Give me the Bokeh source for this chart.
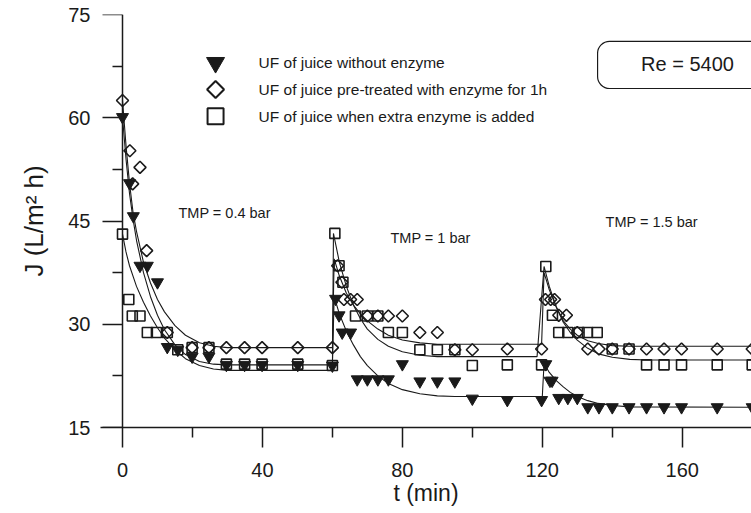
from bokeh.plotting import figure
from bokeh.models import FixedTicker, Range1d, LinearAxis
from bokeh.core.properties import value
from bokeh.embed import file_html
from bokeh.resources import INLINE

# ---------------- data ----------------
# UF of juice without enzyme (filled inverted triangles)
tri_t = [0, 2.0, 3.1, 5.0, 7.1, 10.0, 12.8, 15.8, 19.9, 24.7, 29.7, 34.9, 39.9, 50.1,
         60.0, 60.9, 61.9, 62.8, 65.2, 67.1, 70.0, 73.0, 76.0, 80.0, 85.0, 90.0, 95.0, 100.0, 110.0,
         119.8, 121.0, 122.2, 122.8, 124.7, 127.3, 130.0, 133.0, 136.2, 140.0, 144.8, 149.8, 154.8,
         159.8, 170.0, 180.0]
tri_J = [60.1, 50.5, 45.7, 38.5, 38.5, 36.1, 26.7, 26.3, 25.3, 25.3, 24.1, 24.1, 24.1, 24.1,
         24.0, 33.7, 31.3, 28.8, 28.8, 22.0, 22.0, 22.0, 22.0, 24.2, 21.7, 21.7, 21.7, 19.2, 19.0,
         19.0, 24.2, 21.8, 21.8, 19.3, 19.3, 19.3, 17.95, 17.95, 17.95, 17.95, 17.95, 17.95,
         17.95, 17.95, 17.95]

# UF of juice pre-treated with enzyme for 1h (open diamonds)
dia_t = [0, 2.1, 2.9, 5.0, 6.9, 12.8, 19.9, 24.7, 29.7, 34.9, 39.9, 50.1,
         60.0, 61.5, 62.7, 63.3, 65.2, 67.1, 70.0, 73.0, 76.0, 80.0, 85.0, 90.0, 95.0, 100.0, 110.0,
         119.8, 120.9, 122.4, 123.5, 124.7, 126.9, 130.0, 133.0, 136.2, 140.0, 144.8, 149.8, 154.8,
         159.8, 170.0, 180.0]
dia_J = [62.5, 55.2, 50.4, 52.8, 40.7, 28.8, 26.6, 26.6, 26.6, 26.6, 26.6, 26.6,
         26.6, 38.5, 36.1, 33.6, 33.6, 33.6, 31.2, 31.2, 31.2, 31.2, 28.8, 28.8, 26.3, 26.3, 26.4,
         26.4, 33.6, 33.6, 33.6, 31.3, 31.3, 28.8, 26.4, 26.4, 26.4, 26.4, 26.4, 26.4,
         26.4, 26.4, 26.4]

# UF of juice when extra enzyme is added (open squares)
sq_t = [0, 1.8, 2.8, 5.0, 7.1, 9.7, 12.8, 15.8, 19.9, 24.7, 29.7, 34.9, 39.9, 50.1,
        60.0, 60.7, 61.9, 63.0, 66.6, 70.0, 73.0, 76.0, 80.0, 85.0, 90.0, 95.0, 100.0, 110.0,
        119.8, 121.0, 122.9, 124.7, 127.3, 130.5, 132.9, 135.7, 140.0, 144.8, 149.8, 154.8,
        159.8, 170.0, 180.0]
sq_J = [43.1, 33.6, 31.2, 31.2, 28.8, 28.8, 28.8, 26.3, 26.6, 26.6, 24.2, 24.2, 24.2, 24.2,
        24.0, 43.2, 38.5, 36.1, 31.2, 31.2, 31.2, 28.8, 28.8, 26.3, 26.3, 26.3, 24.0, 24.1,
        24.1, 38.4, 31.3, 28.8, 28.8, 28.8, 28.8, 28.8, 26.4, 26.4, 24.1, 24.1,
        24.1, 24.1, 24.1]

# fitted curves
fit_tri_t = [0, 1, 2, 3, 4, 6, 8, 10, 12, 15, 18, 22, 26, 30, 60,
             60.5, 62, 64, 66, 68, 70, 73, 76, 80, 85, 90, 95, 120,
             120.5, 122, 124, 126, 128, 130, 133, 136, 140, 145, 180]
fit_tri_J = [60.1, 54.0, 49.0, 45.3, 42.2, 37.5, 34.0, 31.3, 29.2, 27.0, 25.6, 24.6, 24.2, 24.1, 24.1,
             34.0, 31.5, 29.0, 27.0, 25.3, 24.0, 22.5, 21.4, 20.5, 19.9, 19.6, 19.5, 19.5,
             24.3, 23.0, 21.8, 20.9, 20.1, 19.5, 18.9, 18.5, 18.2, 18.0, 17.95]

fit_dia_t = [0, 1, 2, 3, 4, 6, 8, 10, 12, 15, 18, 22, 26, 30, 60,
             60.5, 62, 64, 66, 68, 70, 73, 76, 80, 85, 90, 119.8,
             120.5, 122, 124, 126, 128, 130, 133, 136, 140, 145, 180]
fit_dia_J = [62.5, 56.0, 50.5, 46.3, 43.5, 39.0, 36.0, 33.6, 31.8, 29.8, 28.4, 27.3, 26.8, 26.6, 26.6,
             39.5, 37.0, 34.5, 32.8, 31.5, 30.5, 29.3, 28.4, 27.7, 27.3, 27.1, 27.1,
             37.5, 35.0, 32.5, 30.5, 29.3, 28.4, 27.6, 27.2, 26.9, 26.8, 26.8]

fit_sq_t = [0, 1, 2, 4, 6, 8, 10, 12, 15, 18, 22, 26, 30, 60,
            60.3, 62, 64, 66, 68, 70, 73, 76, 80, 85, 90, 118.5,
            120.5, 122, 124, 126, 128, 130, 133, 136, 140, 145, 150, 180]
fit_sq_J = [43.1, 40.5, 38.5, 35.5, 33.2, 31.2, 29.5, 28.0, 26.3, 25.0, 24.0, 23.5, 23.3, 23.3,
            43.2, 39.0, 35.5, 32.8, 30.8, 29.3, 27.8, 26.8, 26.0, 25.5, 25.3, 25.3,
            38.4, 35.5, 32.5, 30.3, 28.8, 27.7, 26.5, 25.7, 25.2, 24.9, 24.8, 24.8]

x_major = [0, 40, 80, 120, 160]
x_minor = [20, 60, 100, 140, 180]
y_major = [15, 30, 45, 60, 75]
y_minor = [22.5, 37.5, 52.5, 67.5]

legend_labels = ["UF of juice without enzyme",
                 "UF of juice pre-treated with enzyme for 1h",
                 "UF of juice when extra enzyme is added"]
tmp_labels = ["TMP = 0.4 bar", "TMP = 1 bar", "TMP = 1.5 bar"]
re_label = "Re = 5400"

# ---------------- figure ----------------
FONT = "Liberation Sans"
INK = "#1a1a1a"

p = figure(width=751, height=513, output_backend="svg", toolbar_location=None,
           x_range=Range1d(-6.29, 179.8), y_range=Range1d(15, 75),
           min_border_left=100, min_border_right=0, min_border_top=14, min_border_bottom=86)
p.outline_line_color = None
p.grid.visible = False
p.background_fill_color = "white"
p.border_fill_color = "white"

# x axis (bottom of the frame, at J = 15)
xa = p.xaxis[0]
xa.ticker = FixedTicker(ticks=x_major, minor_ticks=x_minor)

# left axis: only tick labels and title (sits at the frame edge)
ya = p.yaxis[0]
ya.ticker = FixedTicker(ticks=y_major, minor_ticks=y_minor)
ya.axis_line_color = None
ya.major_tick_line_color = None
ya.minor_tick_line_color = None
ya.major_tick_out = 0
ya.major_tick_in = 0
ya.minor_tick_out = 0
ya.minor_tick_in = 0

# y axis line and ticks, drawn at t = 0 (its labels are carried by the axis above)
ya2 = LinearAxis(ticker=FixedTicker(ticks=y_major, minor_ticks=y_minor), fixed_location=0,
                 major_label_text_font_size="0px", major_label_standoff=0,
                 major_label_text_color=None, major_label_text_alpha=0)
p.add_layout(ya2, "left")

for ax in (xa, ya2):
    ax.axis_line_color = INK
    ax.axis_line_width = 1.5
    ax.major_tick_line_color = INK
    ax.major_tick_line_width = 1.5
    ax.minor_tick_line_color = INK
    ax.minor_tick_line_width = 1.5
    ax.major_tick_out = 20
    ax.major_tick_in = 0
    ax.minor_tick_out = 10
    ax.minor_tick_in = 0

for ax in (xa, ya):
    ax.major_label_text_font = FONT
    ax.major_label_text_font_size = "20px"
    ax.major_label_text_color = INK
    ax.axis_label_text_font = FONT
    ax.axis_label_text_font_style = "normal"
    ax.axis_label_text_color = INK

xa.major_label_standoff = 15
ya.major_label_standoff = 10
xa.axis_label = "t (min)"
ya.axis_label = "J (L/m² h)"
xa.axis_label_text_font_size = "23px"
ya.axis_label_text_font_size = "26px"
xa.axis_label_standoff = 0
ya.axis_label_standoff = 16

# fitted lines
for tt, jj in ((fit_tri_t, fit_tri_J), (fit_dia_t, fit_dia_J), (fit_sq_t, fit_sq_J)):
    p.line(tt, jj, line_color=INK, line_width=1.1)

# markers
p.scatter(tri_t, tri_J, marker="inverted_triangle", size=12, fill_color=INK, line_color=INK)
p.scatter(dia_t, dia_J, marker="square", angle=0.7854, size=8.5, fill_color=None,
          line_color=INK, line_width=1.6)
p.scatter(sq_t, sq_J, marker="square", size=10, fill_color=None, line_color=INK, line_width=1.6)

# legend (drawn by hand, as in the original)
leg_x = 26.6
leg_y = [68.0, 64.1, 60.2]
p.scatter([leg_x], [leg_y[0]], marker="inverted_triangle", size=18, fill_color=INK, line_color=INK)
p.scatter([leg_x], [leg_y[1]], marker="square", angle=0.7854, size=12, fill_color=None,
          line_color=INK, line_width=2)
p.scatter([leg_x], [leg_y[2]], marker="square", size=16, fill_color=None, line_color=INK, line_width=2)
p.text([38.9] * 3, leg_y, text=legend_labels, text_font=value(FONT), text_font_size="15.5px",
       text_baseline="middle", text_color=INK)

# TMP labels
p.text([16.0, 76.6, 138.1], [46.2, 42.6, 44.8], text=tmp_labels, text_font=value(FONT),
       text_font_size="14.5px", text_baseline="middle", text_color=INK)

# Re box
p.quad(left=135.8, right=196, top=71.1, bottom=64.25, border_radius=12,
       fill_color=None, line_color=INK, line_width=1.2)
p.text([161.5], [67.8], text=[re_label], text_font=value(FONT), text_font_size="20px",
       text_align="center", text_baseline="middle", text_color=INK)

open("out.html", "w").write(file_html(p, INLINE))
